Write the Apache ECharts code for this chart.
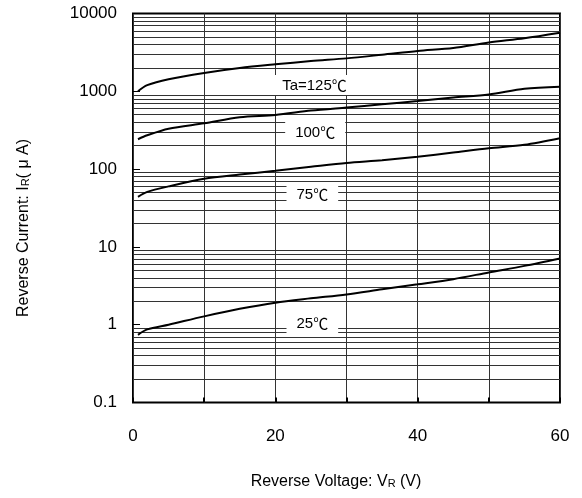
<!DOCTYPE html>
<html>
<head>
<meta charset="utf-8">
<script src="https://cdn.jsdelivr.net/npm/echarts@6/dist/echarts.min.js"></script>
<style>html,body{margin:0;padding:0;background:#fff}#c{width:582px;height:498px}</style>
</head>
<body>
<div id="c"></div>
<script>
// Reverse voltage (V)
const voltage = [0.7, 2, 5, 10, 15, 20, 25, 30, 35, 40, 45, 50, 55, 60];
// Reverse current (µA) per temperature
const cur125 = [1000, 1200, 1430, 1720, 1990, 2220, 2450, 2650, 2950, 3300, 3600, 4250, 4800, 5650];
const cur100 = [242, 272, 330, 388, 465, 496, 565, 620, 680, 750, 830, 910, 1080, 1146];
const cur75  = [44, 51, 60, 75, 85, 95, 107, 120, 130, 144, 163, 185, 205, 249];
const cur25  = [0.74, 0.87, 1.0, 1.28, 1.6, 1.92, 2.18, 2.45, 2.85, 3.3, 3.85, 4.7, 5.7, 7.1];
const curveNames = ['Ta=125', '100', '75', '25'];
const degUnit = '℃';
// label anchor positions (data coords)
const labelV = [25.5, 25.6, 25.2, 25.2];
const labelI = [1205, 300, 48, 1.05];
// axis ticks
const xTicks = [0, 10, 20, 30, 40, 50, 60];
const xTickLabels = ['0', '', '20', '', '40', '', '60'];
const yTicks = [0.1, 1, 10, 100, 1000, 10000];
const yTickLabels = ['0.1', '1', '10', '100', '1000', '10000'];
// minor log grid values
const minorY = [];
for (let d = 0; d < yTicks.length - 1; d++) {
  for (let m = 2; m <= 9; m++) minorY.push(+(yTicks[d] * m).toPrecision(3));
}

const chart = echarts.init(document.getElementById('c'), null, {renderer: 'canvas'});
const allCurves = [cur125, cur100, cur75, cur25];
const font = '"Liberation Sans", "Noto Sans CJK JP", sans-serif';

const series = [{
  type: 'line', data: [], silent: true,
  markLine: {
    silent: true, symbol: 'none', z: 1, animation: false,
    label: {show: false},
    lineStyle: {color: '#333', width: 1, type: 'solid'},
    emphasis: {disabled: true},
    data: minorY.map(v => ({yAxis: v}))
  }
}];
allCurves.forEach((arr, i) => {
  series.push({
    type: 'line', name: curveNames[i] + degUnit,
    data: voltage.map((v, k) => [v, arr[k]]),
    showSymbol: false, smooth: 0.3, z: 3,
    lineStyle: {color: '#000', width: 2},
    markPoint: {
      z: 10, animation: false, silent: true,
      symbol: 'rect', symbolSize: 1, itemStyle: {color: 'rgba(0,0,0,0)'},
      label: {
        show: true, position: 'inside',
        formatter: '{a|' + curveNames[i] + '}{b|' + degUnit + '}',
        backgroundColor: '#fff', padding: [3, 10, 2, 10],
        rich: {
          a: {color: '#000', fontSize: 15, fontFamily: '"Liberation Sans", sans-serif'},
          b: {color: '#000', fontSize: 15, fontFamily: '"Noto Sans CJK JP", sans-serif'}
        }
      },
      data: [{coord: [labelV[i], labelI[i]]}]
    }
  });
});

chart.setOption({
  animation: false,
  backgroundColor: '#fff',
  grid: {left: 133, right: 22, top: 13.5, bottom: 95.5, show: true, borderColor: '#000', borderWidth: 2, backgroundColor: 'transparent'},
  xAxis: {
    type: 'value', min: 0, max: 60, interval: 10,
    axisLine: {show: false},
    axisTick: {show: true, inside: true, length: 5, lineStyle: {color: '#000', width: 2}},
    splitLine: {show: true, lineStyle: {color: '#333', width: 1}},
    axisLabel: {
      color: '#000', fontSize: 17, fontFamily: font, margin: 25,
      formatter: v => { const k = xTicks.indexOf(v); return k >= 0 ? xTickLabels[k] : ''; }
    }
  },
  yAxis: {
    type: 'log', logBase: 10, min: 0.1, max: 10000,
    axisLine: {show: false},
    axisTick: {show: true, inside: true, length: 7, lineStyle: {color: '#000', width: 1}},
    splitLine: {show: false},
    axisLabel: {
      color: '#000', fontSize: 17, fontFamily: font, margin: 16,
      formatter: v => { const k = yTicks.findIndex(t => Math.abs(t - v) / t < 1e-6); return k >= 0 ? yTickLabels[k] : ''; }
    }
  },
  graphic: [
    {
      type: 'text', x: 336, y: 482, z: 100,
      style: {
        text: 'Reverse Voltage: V{s|R} (V)', textAlign: 'center', textVerticalAlign: 'middle',
        font: '16px ' + font, fill: '#000',
        rich: {s: {fontSize: 11, fontFamily: font, fill: '#000', padding: [4, 0, 0, 0]}}
      }
    },
    {
      type: 'text', x: 24, y: 228, rotation: Math.PI / 2, z: 100,
      style: {
        text: 'Reverse Current: I{s|R}( μ A)', textAlign: 'center', textVerticalAlign: 'middle',
        font: '16px ' + font, fill: '#000',
        rich: {s: {fontSize: 11, fontFamily: font, fill: '#000', padding: [4, 0, 0, 0]}}
      }
    }
  ],
  series: series
});
</script>
</body>
</html>
